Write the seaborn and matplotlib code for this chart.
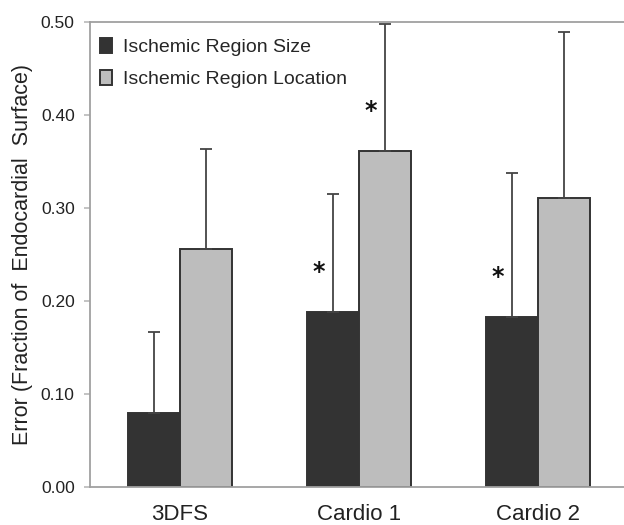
import matplotlib
matplotlib.use("Agg")
import matplotlib.pyplot as plt
import seaborn as sns
import pandas as pd
import numpy as np

# values
methods = ["3DFS", "Cardio 1", "Cardio 2"]
series = ["Ischemic Region Size", "Ischemic Region Location"]
size_err = [0.080, 0.188, 0.183]
size_sd = [0.087, 0.127, 0.155]
loc_err = [0.256, 0.361, 0.311]
loc_sd = [0.107, 0.137, 0.178]
# significance stars: (method index, series index)
stars = [(1, 0), (1, 1), (2, 0)]

sns.set_theme(style="white")
plt.rcParams["font.family"] = ["Liberation Sans", "DejaVu Sans"]

df = pd.DataFrame({
    "method": methods * 2,
    "series": [series[0]] * 3 + [series[1]] * 3,
    "error": size_err + loc_err,
})

fig = plt.figure(figsize=(6.24, 5.25), dpi=100)
ax = fig.add_axes([90 / 624, 38 / 525, 1 - 90 / 624, 465 / 525])

sns.barplot(data=df, x="method", y="error", hue="series", order=methods,
            hue_order=series, palette=["#333333", "#bdbdbd"], width=0.58,
            gap=0, edgecolor="#333333", linewidth=1.4, errorbar=None, ax=ax)

# one-sided error bars + stars, placed from the bar patches
sds = [size_sd, loc_sd]
vals = [size_err, loc_err]
bar_conts = list(ax.containers)
for si, cont in enumerate(bar_conts):
    for mi, bar in enumerate(cont.patches):
        cx = bar.get_x() + bar.get_width() / 2
        top = bar.get_height()
        ax.errorbar(cx, top, yerr=[[0], [sds[si][mi]]], fmt="none",
                    ecolor="#444444", elinewidth=1.3, capsize=4.2, capthick=1.3,
                    zorder=1)
        if (mi, si) in stars:
            ax.text(cx - 0.08, vals[si][mi] + 0.043, "*", ha="center", va="center",
                    fontsize=17, fontweight="bold", family="DejaVu Sans",
                    color="#111111")

ax.set_ylim(0, 0.5)
ax.set_xlim(-0.5, 2.48)
ax.set_yticks(np.arange(0, 0.51, 0.1))
ax.set_yticklabels([f"{v:.2f}" for v in np.arange(0, 0.51, 0.1)], fontsize=12.5,
                   color="#222222")
ax.set_xticks(range(len(methods)))
ax.set_xticklabels(methods, fontsize=16, color="#222222")
ax.set_xticks([0.5, 1.5], minor=True)
ax.tick_params(axis="x", which="major", length=0, pad=12)
ax.tick_params(axis="x", which="minor", length=3, color="#cccccc", direction="out")
ax.tick_params(axis="y", length=4, color="#bbbbbb", pad=7, left=True)
ax.set_xlabel("")
ax.set_ylabel("Error (Fraction of  Endocardial  Surface)", fontsize=15.5,
              color="#222222", labelpad=6)

for side in ["left", "bottom", "top"]:
    ax.spines[side].set_color("#a0a0a0")
    ax.spines[side].set_linewidth(1.3)
ax.spines["right"].set_visible(False)

ax.legend(loc="upper left", bbox_to_anchor=(0.0187, 0.966), frameon=False,
          fontsize=14, handlelength=0.62, handleheight=0.82, handletextpad=0.57,
          labelspacing=0.7, borderaxespad=0, borderpad=0)

fig.savefig("out.png", dpi=100)
